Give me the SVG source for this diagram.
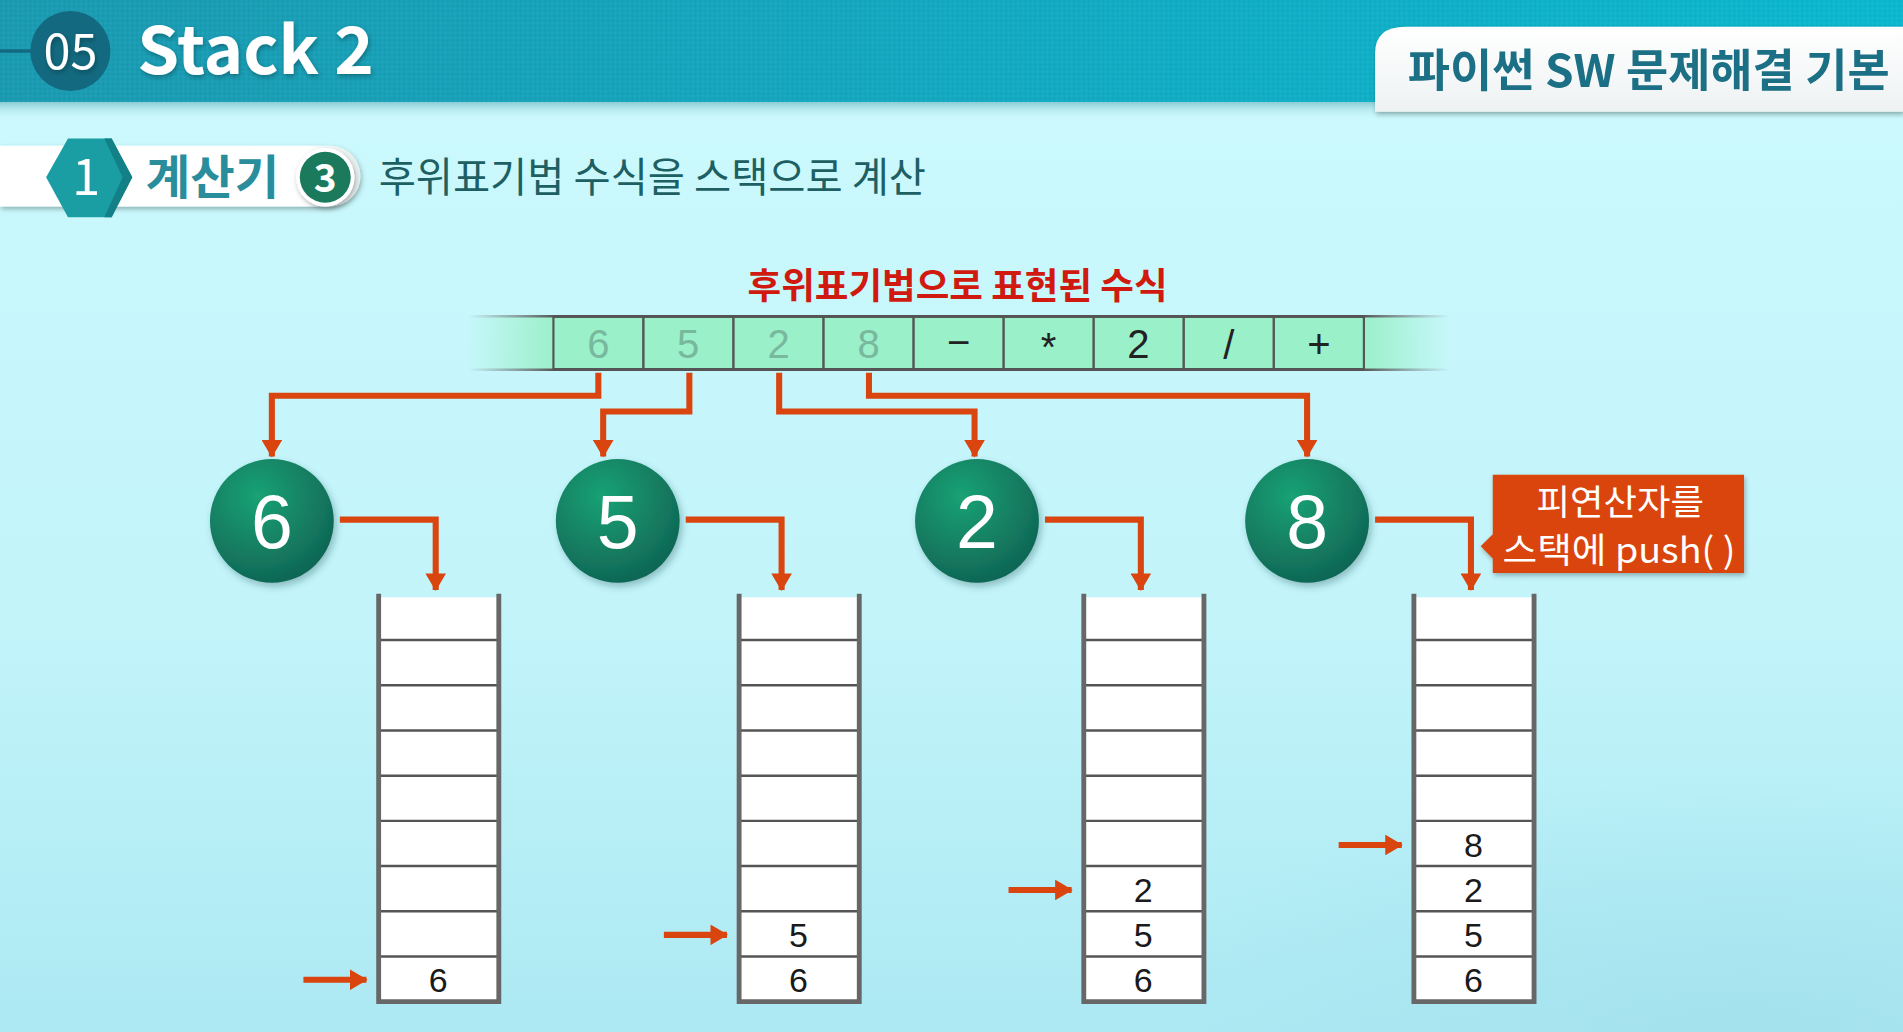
<svg xmlns="http://www.w3.org/2000/svg" width="1903" height="1032" viewBox="0 0 1903 1032">
<defs>
  <linearGradient id="bg" x1="0" y1="0" x2="0" y2="1">
    <stop offset="0" stop-color="#cdfafd"/>
    <stop offset="0.6" stop-color="#c2f4fa"/>
    <stop offset="1" stop-color="#ade9f3"/>
  </linearGradient>
  <radialGradient id="cubes" cx="0.85" cy="1" r="0.6">
    <stop offset="0" stop-color="#9fdfeb" stop-opacity="0.7"/>
    <stop offset="1" stop-color="#9fdfeb" stop-opacity="0"/>
  </radialGradient>
  <linearGradient id="hdr" x1="0" y1="0" x2="1" y2="0">
    <stop offset="0" stop-color="#1b9bb2"/>
    <stop offset="1" stop-color="#0cb8d0"/>
  </linearGradient>
  <linearGradient id="hdrShade" x1="0" y1="0" x2="0" y2="1">
    <stop offset="0" stop-color="#6fb8c4" stop-opacity="0.8"/>
    <stop offset="1" stop-color="#cdfafd" stop-opacity="0"/>
  </linearGradient>
  <pattern id="dots" width="4" height="4" patternUnits="userSpaceOnUse">
    <circle cx="1" cy="1" r="0.7" fill="#000" fill-opacity="0.07"/>
    <circle cx="3" cy="3" r="0.7" fill="#fff" fill-opacity="0.06"/>
  </pattern>
  <linearGradient id="band" x1="385" y1="0" x2="1195" y2="0" gradientUnits="userSpaceOnUse">
    <stop offset="0" stop-color="#9af0c8" stop-opacity="0"/>
    <stop offset="0.09" stop-color="#9af0c8"/>
    <stop offset="0.91" stop-color="#9af0c8"/>
    <stop offset="1" stop-color="#9af0c8" stop-opacity="0"/>
  </linearGradient>
  <linearGradient id="bandLine" x1="385" y1="0" x2="1195" y2="0" gradientUnits="userSpaceOnUse">
    <stop offset="0" stop-color="#666" stop-opacity="0"/>
    <stop offset="0.09" stop-color="#555"/>
    <stop offset="0.91" stop-color="#555"/>
    <stop offset="1" stop-color="#666" stop-opacity="0"/>
  </linearGradient>
  <radialGradient id="ball" cx="0.38" cy="0.3" r="0.75">
    <stop offset="0" stop-color="#1aa274"/>
    <stop offset="1" stop-color="#0f6454"/>
  </radialGradient>
  <linearGradient id="tab" x1="0" y1="0" x2="0" y2="1">
    <stop offset="0" stop-color="#ffffff"/>
    <stop offset="1" stop-color="#eef2f3"/>
  </linearGradient>
  <linearGradient id="pill" x1="0" y1="0" x2="1" y2="0">
    <stop offset="0" stop-color="#ffffff"/>
    <stop offset="0.85" stop-color="#ffffff"/>
    <stop offset="1" stop-color="#e6eeee"/>
  </linearGradient>
  <filter id="sh" x="-10%" y="-20%" width="130%" height="160%">
    <feDropShadow dx="1" dy="2" stdDeviation="2" flood-color="#000" flood-opacity="0.3"/>
  </filter>
  <filter id="sh2" x="-20%" y="-20%" width="140%" height="140%">
    <feDropShadow dx="2" dy="3" stdDeviation="3" flood-color="#1a5050" flood-opacity="0.35"/>
  </filter>
  <marker id="ah" viewBox="0 0 10 10" refX="9" refY="5" markerWidth="3.4" markerHeight="3.4" orient="auto" markerUnits="strokeWidth">
    <path d="M1,0 L9.5,5 L1,10 z" fill="#d9440f"/>
  </marker>
  <style>
    .kr { font-family: 'Noto Sans CJK KR', 'Noto Sans', sans-serif; }
    .conn { fill: none; stroke: #d9440f; stroke-width: 5; marker-end: url(#ah); }
    .ptr { fill: none; stroke: #d9440f; stroke-width: 5; marker-end: url(#ah); }
    .wall { fill: none; stroke: #676767; stroke-width: 4; }
    .cellbg { fill: #ffffff; }
    .div { stroke: #555; stroke-width: 2; }
    .sv { font-family: 'Liberation Sans', Arial, sans-serif; font-size: 28px; fill: #1a1a1a; text-anchor: middle; }
    .tok { fill: #9af0c8; stroke: #555; stroke-width: 1.8; }
    .tt { font-family: 'Liberation Sans', Arial, sans-serif; font-size: 33px; text-anchor: middle; }
    .ball { fill: url(#ball); filter: url(#sh2); }
    .bt { font-family: 'Liberation Sans', Arial, sans-serif; font-size: 62px; fill: #ffffff; text-anchor: middle; }
  </style>
</defs>
<g transform="scale(1.21365,1.2141)">
  <g id="background">
    <rect x="0" y="0" width="1568" height="850" fill="url(#bg)"/>
    <rect x="700" y="500" width="868" height="350" fill="url(#cubes)"/>
    <rect x="0" y="83" width="1568" height="16" fill="url(#hdrShade)"/>
    <rect x="0" y="0" width="1568" height="84" fill="url(#hdr)"/>
    <rect x="0" y="0" width="1568" height="84" fill="url(#dots)"/>
  </g>

  <g id="header">
    <line x1="0" y1="42" x2="30" y2="42" stroke="#136a80" stroke-width="3"/>
    <circle cx="58" cy="42" r="33" fill="#136a80"/>
    <text x="58" y="57" class="kr" font-size="40" fill="#ffffff" text-anchor="middle" filter="url(#sh)">05</text>
    <text x="113" y="61" class="kr" font-size="54" font-weight="bold" fill="#ffffff" textLength="195" lengthAdjust="spacingAndGlyphs" filter="url(#sh)">Stack 2</text>
  </g>

  <g id="course-tab" filter="url(#sh)">
    <path d="M1133,92 V44 Q1133,22 1158,22 H1568 V92 Z" fill="url(#tab)"/>
    <text x="1160" y="72" class="kr" font-size="37" font-weight="bold" fill="#1f6f86" textLength="397" lengthAdjust="spacingAndGlyphs">파이썬 SW 문제해결 기본</text>
  </g>

  <g id="subtitle">
    <path d="M0,120 H272 A24,24 0 0 1 272,170 H0 Z" fill="url(#pill)" filter="url(#sh)"/>
    <polygon points="38,146 56,114 92,114 109,146 92,179 56,179" fill="#1a9ea3"/>
    <polygon points="92,114 109,146 92,179 86,179 101,146 86,114" fill="#137f86"/>
    <text x="71" y="161" class="kr" font-size="42" fill="#ffffff" text-anchor="middle">1</text>
    <text x="120" y="160" class="kr" font-size="38" font-weight="bold" fill="#2a8d9c" textLength="110" lengthAdjust="spacingAndGlyphs">계산기</text>
    <circle cx="268" cy="146" r="24" fill="#ffffff" filter="url(#sh)"/>
    <circle cx="268" cy="146" r="21" fill="#1b7a5c"/>
    <text x="268" y="158" class="kr" font-size="32" font-weight="bold" fill="#ffffff" text-anchor="middle">3</text>
    <text x="312" y="158" class="kr" font-size="34" fill="#1d5f62" textLength="451" lengthAdjust="spacingAndGlyphs">후위표기법 수식을 스택으로 계산</text>
  </g>

  <g id="expression-title">
    <text x="789" y="246" class="kr" font-size="30" font-weight="bold" fill="#d01a10" text-anchor="middle" textLength="346" lengthAdjust="spacingAndGlyphs">후위표기법으로 표현된 수식</text>
  </g>

  <g id="expression">
    <rect x="385" y="261" width="810" height="43" fill="url(#band)"/>
    <line x1="385" y1="260.5" x2="1195" y2="260.5" stroke="url(#bandLine)" stroke-width="2"/>
    <line x1="385" y1="304.5" x2="1195" y2="304.5" stroke="url(#bandLine)" stroke-width="2"/>
    <g id="tok1"><rect class="tok" x="456" y="261" width="74.2" height="43"/><text class="tt" x="493" y="295" fill="#78b89c">6</text></g>
    <g id="tok2"><rect class="tok" x="530.2" y="261" width="74.2" height="43"/><text class="tt" x="567" y="295" fill="#78b89c">5</text></g>
    <g id="tok3"><rect class="tok" x="604.4" y="261" width="74.2" height="43"/><text class="tt" x="641.5" y="295" fill="#78b89c">2</text></g>
    <g id="tok4"><rect class="tok" x="678.6" y="261" width="74.2" height="43"/><text class="tt" x="715.7" y="295" fill="#78b89c">8</text></g>
    <g id="tok5"><rect class="tok" x="752.8" y="261" width="74.2" height="43"/><text class="tt" x="790" y="293" fill="#222">−</text></g>
    <g id="tok6"><rect class="tok" x="827" y="261" width="74.2" height="43"/><text class="tt" x="864" y="297" fill="#222" font-size="28">*</text></g>
    <g id="tok7"><rect class="tok" x="901.2" y="261" width="74.2" height="43"/><text class="tt" x="938" y="295" fill="#222">2</text></g>
    <g id="tok8"><rect class="tok" x="975.4" y="261" width="74.2" height="43"/><text class="tt" x="1012.5" y="296" fill="#222">/</text></g>
    <g id="tok9"><rect class="tok" x="1049.6" y="261" width="74.2" height="43"/><text class="tt" x="1086.7" y="295" fill="#222">+</text></g>
  </g>

  <g id="node-6"><circle class="ball" cx="224" cy="429" r="51"/><text class="bt" x="224" y="451">6</text></g>
  <g id="node-5"><circle class="ball" cx="509" cy="429" r="51"/><text class="bt" x="509" y="451">5</text></g>
  <g id="node-2"><circle class="ball" cx="805" cy="429" r="51"/><text class="bt" x="805" y="451">2</text></g>
  <g id="node-8"><circle class="ball" cx="1077" cy="429" r="51"/><text class="bt" x="1077" y="451">8</text></g>

  <g id="stack-1">
    <rect class="cellbg" x="312" y="492" width="99" height="333"/>
    <g class="div"><line x1="312" y1="527.2" x2="411" y2="527.2"/><line x1="312" y1="564.4" x2="411" y2="564.4"/><line x1="312" y1="601.7" x2="411" y2="601.7"/><line x1="312" y1="638.9" x2="411" y2="638.9"/><line x1="312" y1="676.1" x2="411" y2="676.1"/><line x1="312" y1="713.3" x2="411" y2="713.3"/><line x1="312" y1="750.6" x2="411" y2="750.6"/><line x1="312" y1="787.8" x2="411" y2="787.8"/></g>
    <path class="wall" d="M312,489 V825 H411 V489"/>
    <text class="sv" x="361" y="817">6</text>
  </g>
  <g id="stack-2">
    <rect class="cellbg" x="609" y="492" width="99" height="333"/>
    <g class="div"><line x1="609" y1="527.2" x2="708" y2="527.2"/><line x1="609" y1="564.4" x2="708" y2="564.4"/><line x1="609" y1="601.7" x2="708" y2="601.7"/><line x1="609" y1="638.9" x2="708" y2="638.9"/><line x1="609" y1="676.1" x2="708" y2="676.1"/><line x1="609" y1="713.3" x2="708" y2="713.3"/><line x1="609" y1="750.6" x2="708" y2="750.6"/><line x1="609" y1="787.8" x2="708" y2="787.8"/></g>
    <path class="wall" d="M609,489 V825 H708 V489"/>
    <text class="sv" x="658" y="780">5</text>
    <text class="sv" x="658" y="817">6</text>
  </g>
  <g id="stack-3">
    <rect class="cellbg" x="893" y="492" width="99" height="333"/>
    <g class="div"><line x1="893" y1="527.2" x2="992" y2="527.2"/><line x1="893" y1="564.4" x2="992" y2="564.4"/><line x1="893" y1="601.7" x2="992" y2="601.7"/><line x1="893" y1="638.9" x2="992" y2="638.9"/><line x1="893" y1="676.1" x2="992" y2="676.1"/><line x1="893" y1="713.3" x2="992" y2="713.3"/><line x1="893" y1="750.6" x2="992" y2="750.6"/><line x1="893" y1="787.8" x2="992" y2="787.8"/></g>
    <path class="wall" d="M893,489 V825 H992 V489"/>
    <text class="sv" x="942" y="743">2</text>
    <text class="sv" x="942" y="780">5</text>
    <text class="sv" x="942" y="817">6</text>
  </g>
  <g id="stack-4">
    <rect class="cellbg" x="1165" y="492" width="99" height="333"/>
    <g class="div"><line x1="1165" y1="527.2" x2="1264" y2="527.2"/><line x1="1165" y1="564.4" x2="1264" y2="564.4"/><line x1="1165" y1="601.7" x2="1264" y2="601.7"/><line x1="1165" y1="638.9" x2="1264" y2="638.9"/><line x1="1165" y1="676.1" x2="1264" y2="676.1"/><line x1="1165" y1="713.3" x2="1264" y2="713.3"/><line x1="1165" y1="750.6" x2="1264" y2="750.6"/><line x1="1165" y1="787.8" x2="1264" y2="787.8"/></g>
    <path class="wall" d="M1165,489 V825 H1264 V489"/>
    <text class="sv" x="1214" y="706">8</text>
    <text class="sv" x="1214" y="743">2</text>
    <text class="sv" x="1214" y="780">5</text>
    <text class="sv" x="1214" y="817">6</text>
  </g>

  <g id="callout">
    <path d="M1230,391 H1437 V472 H1230 V460 L1220,450 L1230,440 Z" fill="#d9440f" filter="url(#sh)"/>
    <text x="1335" y="424" class="kr" font-size="29" fill="#ffffff" text-anchor="middle" textLength="138" lengthAdjust="spacingAndGlyphs">피연산자를</text>
    <text x="1334" y="464" class="kr" font-size="29" fill="#ffffff" text-anchor="middle" textLength="192" lengthAdjust="spacingAndGlyphs">스택에 push( )</text>
  </g>

  <g id="connectors">
    <path class="conn" d="M493,307 V326 H224 V376"/>
    <path class="conn" d="M568,307 V339 H497 V376"/>
    <path class="conn" d="M642,307 V339 H803 V376"/>
    <path class="conn" d="M716,307 V326 H1077 V376"/>
    <path class="conn" d="M280,428 H359 V486"/>
    <path class="conn" d="M565,428 H644 V486"/>
    <path class="conn" d="M861,428 H940 V486"/>
    <path class="conn" d="M1133,428 H1212 V486"/>
    <path class="ptr" d="M250,807 H302"/>
    <path class="ptr" d="M547,770 H599"/>
    <path class="ptr" d="M831,733 H883"/>
    <path class="ptr" d="M1103,696 H1155"/>
  </g>
</g>
</svg>
